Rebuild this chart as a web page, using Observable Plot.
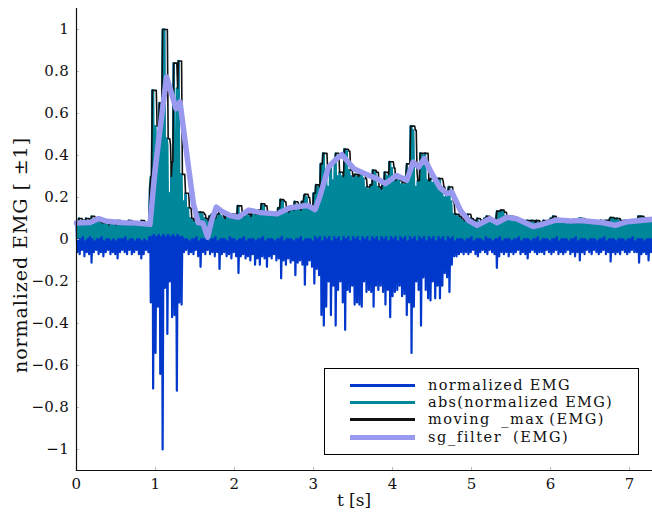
<!DOCTYPE html>
<html><head><meta charset="utf-8">
<script src="https://cdn.jsdelivr.net/npm/d3@7"></script>
<script src="https://cdn.jsdelivr.net/npm/@observablehq/plot@0.6"></script>
<style>
body{margin:0;background:#fff;}
#wrap{position:relative;width:652px;height:512px;font-family:"DejaVu Serif",serif;color:#111;}
#wrap svg{position:absolute;left:0;top:0;}
.lbl{position:absolute;white-space:nowrap;line-height:1;}
#legend{position:absolute;left:324px;top:368px;width:315px;height:87px;border:1px solid #000;background:#fff;box-sizing:border-box;}
.row{position:absolute;left:0;height:17px;width:100%;}
.sw{position:absolute;left:25px;width:65px;top:50%;}
.tx{position:absolute;left:103px;top:0;font-size:14.5px;line-height:17px;white-space:nowrap;}
</style></head><body><div id="wrap"></div>
<script>
// sampling step of the EMG record (s)
const dt = 0.01;
// normalized EMG samples, 12 per row (0.12 s per row)
const emg = [
 0.08,-0.06,0.01, 0.10,-0.07,-0.01, 0.07,-0.05,0.02, 0.09,-0.08,0.00,
 0.10,-0.06,0.01, 0.08,-0.07,-0.02, 0.09,-0.11,0.01, 0.07,-0.06,0.00,
 0.10,-0.05,0.01, 0.09,-0.07,-0.01, 0.08,-0.06,0.02, 0.07,-0.08,0.00,
 0.08,-0.06,0.01, 0.07,-0.05,-0.01, 0.09,-0.07,0.00, 0.08,-0.06,0.01,
 0.07,-0.07,0.00, 0.08,-0.09,0.01, 0.08,-0.06,-0.01, 0.07,-0.05,0.01,
 0.08,-0.06,0.02, 0.07,-0.07,0.00, 0.09,-0.05,-0.01, 0.08,-0.07,0.01,
 0.07,-0.06,0.00, 0.08,-0.05,0.01, 0.07,-0.07,-0.01, 0.08,-0.09,0.00,
 0.08,-0.07,0.01, 0.07,-0.05,0.00, 0.08,-0.06,0.02, 0.25,-0.30,0.02,
 0.71,-0.71,0.03, 0.54,-0.54,-0.02, 0.30,-0.32,0.03, 0.65,-0.64,-0.02,
 0.40,-1.00,0.03, 1.00,-0.23,-0.02, 0.48,-0.45,0.03, 0.22,-0.20,-0.02,
 0.30,-0.37,0.03, 0.84,-0.36,-0.02, 0.20,-0.72,0.03, 0.85,-0.30,-0.02,
 0.31,-0.31,0.02, 0.18,-0.06,-0.01, 0.22,-0.05,0.01, 0.15,-0.07,0.00,
 0.10,-0.06,0.01, 0.09,-0.07,-0.01, 0.11,-0.05,0.02, 0.13,-0.08,0.00,
 0.13,-0.13,0.01, 0.12,-0.06,-0.01, 0.10,-0.07,0.01, 0.09,-0.05,0.00,
 0.11,-0.07,0.01, 0.12,-0.06,-0.01, 0.10,-0.08,0.02, 0.12,-0.06,0.00,
 0.12,-0.14,0.01, 0.11,-0.07,-0.01, 0.10,-0.06,0.01, 0.12,-0.08,0.00,
 0.11,-0.07,0.02, 0.10,-0.09,-0.01, 0.12,-0.06,0.01, 0.11,-0.08,0.00,
 0.16,-0.16,0.01, 0.12,-0.08,-0.01, 0.11,-0.07,0.02, 0.13,-0.09,0.00,
 0.12,-0.08,0.01, 0.11,-0.10,-0.01, 0.13,-0.07,0.01, 0.12,-0.12,0.00,
 0.12,-0.09,0.01, 0.14,-0.12,-0.01, 0.17,-0.08,0.02, 0.16,-0.09,0.00,
 0.12,-0.13,0.01, 0.13,-0.08,-0.01, 0.12,-0.09,0.01, 0.13,-0.07,0.00,
 0.12,-0.10,0.01, 0.15,-0.09,-0.01, 0.19,-0.185,0.02, 0.18,-0.10,0.00,
 0.14,-0.12,0.01, 0.13,-0.09,-0.01, 0.15,-0.11,0.01, 0.14,-0.10,0.00,
 0.18,-0.17,0.01, 0.15,-0.11,-0.01, 0.14,-0.10,0.02, 0.18,-0.12,0.00,
 0.21,-0.215,0.01, 0.20,-0.12,-0.01, 0.16,-0.10,0.01, 0.15,-0.13,0.00,
 0.22,-0.21,0.02, 0.26,-0.14,-0.01, 0.25,-0.17,0.02, 0.36,-0.36,0.00,
 0.41,-0.41,0.02, 0.30,-0.32,-0.01, 0.25,-0.20,0.02, 0.33,-0.36,0.00,
 0.28,-0.22,0.02, 0.36,-0.41,-0.01, 0.30,-0.24,0.02, 0.32,-0.20,0.00,
 0.30,-0.30,0.02, 0.43,-0.43,-0.01, 0.42,-0.24,0.02, 0.33,-0.25,0.00,
 0.30,-0.22,0.02, 0.27,-0.31,-0.01, 0.25,-0.30,0.02, 0.29,-0.31,0.00,
 0.26,-0.32,0.02, 0.29,-0.20,-0.01, 0.24,-0.25,0.02, 0.22,-0.24,0.00,
 0.26,-0.25,0.02, 0.33,-0.32,-0.01, 0.32,-0.22,0.02, 0.25,-0.24,0.00,
 0.24,-0.22,0.02, 0.26,-0.25,-0.01, 0.32,-0.31,0.02, 0.30,-0.24,0.00,
 0.37,-0.37,0.02, 0.34,-0.27,-0.01, 0.28,-0.25,0.02, 0.30,-0.24,0.00,
 0.28,-0.22,0.02, 0.26,-0.27,-0.01, 0.25,-0.26,0.02, 0.30,-0.36,0.00,
 0.32,-0.30,0.02, 0.54,-0.54,-0.01, 0.52,-0.32,0.02, 0.25,-0.20,0.00,
 0.28,-0.24,0.02, 0.41,-0.41,-0.01, 0.40,-0.18,0.02, 0.41,-0.24,0.00,
 0.28,-0.28,0.02, 0.22,-0.29,-0.01, 0.27,-0.20,0.02, 0.29,-0.28,0.00,
 0.29,-0.22,0.02, 0.29,-0.28,-0.01, 0.25,-0.22,0.02, 0.20,-0.16,0.00,
 0.22,-0.18,0.02, 0.25,-0.25,-0.01, 0.18,-0.12,0.02, 0.12,-0.08,0.00,
 0.12,-0.08,0.01, 0.11,-0.07,-0.01, 0.10,-0.06,0.01, 0.09,-0.07,0.00,
 0.11,-0.06,0.01, 0.12,-0.07,-0.01, 0.10,-0.06,0.02, 0.09,-0.05,0.00,
 0.09,-0.07,0.01, 0.10,-0.08,-0.01, 0.08,-0.06,0.01, 0.09,-0.05,0.00,
 0.10,-0.06,0.02, 0.11,-0.07,-0.01, 0.10,-0.05,0.01, 0.09,-0.06,0.00,
 0.09,-0.07,0.01, 0.10,-0.135,-0.01, 0.13,-0.08,0.02, 0.14,-0.06,0.00,
 0.13,-0.07,0.01, 0.11,-0.06,-0.01, 0.10,-0.08,0.01, 0.11,-0.06,0.00,
 0.10,-0.07,0.01, 0.09,-0.06,-0.01, 0.09,-0.05,0.02, 0.08,-0.07,0.00,
 0.09,-0.06,0.01, 0.08,-0.07,-0.01, 0.09,-0.09,0.01, 0.08,-0.06,0.00,
 0.09,-0.05,0.01, 0.08,-0.06,-0.01, 0.09,-0.07,0.02, 0.08,-0.06,0.00,
 0.08,-0.06,0.01, 0.09,-0.07,-0.01, 0.08,-0.05,0.01, 0.09,-0.06,0.00,
 0.10,-0.07,0.01, 0.11,-0.06,-0.01, 0.10,-0.05,0.02, 0.09,-0.07,0.00,
 0.09,-0.06,0.01, 0.08,-0.07,-0.01, 0.09,-0.06,0.01, 0.08,-0.05,0.00,
 0.09,-0.07,0.01, 0.08,-0.06,-0.01, 0.09,-0.08,0.02, 0.08,-0.06,0.00,
 0.10,-0.10,0.01, 0.10,-0.06,-0.01, 0.09,-0.07,0.01, 0.08,-0.05,0.00,
 0.09,-0.06,0.01, 0.08,-0.07,-0.01, 0.09,-0.05,0.01, 0.08,-0.06,0.00,
 0.08,-0.07,0.01, 0.09,-0.06,-0.01, 0.08,-0.05,0.02, 0.09,-0.07,0.00,
 0.09,-0.06,0.01, 0.10,-0.105,-0.01, 0.10,-0.06,0.01, 0.10,-0.07,0.00,
 0.10,-0.06,0.01, 0.09,-0.07,-0.01, 0.08,-0.05,0.01, 0.09,-0.06,0.00,
 0.08,-0.07,0.01, 0.09,-0.06,-0.01, 0.08,-0.05,0.02, 0.09,-0.06,0.00,
 0.09,-0.06,0.01, 0.11,-0.11,-0.01, 0.11,-0.07,0.01, 0.10,-0.06,0.00,
 0.10,-0.07,0.01, 0.09,-0.10,-0.01, 0.09,-0.06,0.01, 0.08,-0.07,0.00
];
// Savitzky-Golay filtered envelope
const sgT = [0,0.17,0.28,0.38,0.6,0.76,0.93,0.99,1.05,1.14,1.21,1.26,1.31,1.4,1.48,1.54,1.6,1.66,1.71,1.77,1.84,1.95,2.05,2.18,2.33,2.54,2.7,2.92,2.98,3.02,3.08,3.19,3.28,3.36,3.51,3.65,3.8,3.91,4.05,4.18,4.26,4.33,4.4,4.5,4.6,4.69,4.75,4.86,4.96,5.07,5.23,5.32,5.45,5.57,5.78,5.91,6.08,6.25,6.38,6.67,6.82,6.97,7.29];
const sgV = [0.078,0.081,0.100,0.087,0.080,0.078,0.072,0.313,0.504,0.774,0.687,0.623,0.655,0.393,0.170,0.080,0.078,0.011,0.090,0.154,0.134,0.113,0.106,0.140,0.128,0.122,0.151,0.162,0.151,0.142,0.205,0.345,0.380,0.404,0.337,0.313,0.290,0.266,0.305,0.282,0.369,0.345,0.385,0.313,0.247,0.218,0.226,0.138,0.091,0.067,0.099,0.080,0.106,0.099,0.062,0.074,0.093,0.088,0.090,0.080,0.067,0.085,0.096];
const xTicks = [0,1,2,3,4,5,6,7];
const yTicks = [-1,-0.8,-0.6,-0.4,-0.2,0,0.2,0.4,0.6,0.8,1];
const seriesNames = ["normalized EMG","abs(normalized EMG)","moving \u2009_max\u2009(EMG)","sg_filter\u2009 (EMG)"];
const seriesColors = ["#0038cc","#00879a","#111111","#9999f0"];
const seriesWidths = [2.2,2.3,1.6,5.5];

const emgData = emg.map((v,i)=>({t:+(i*dt).toFixed(2), v, a:Math.abs(v)}));
const sgData = sgT.map((t,i)=>({t, v:sgV[i]}));

const plot = Plot.plot({
  width:652, height:512, marginLeft:76, marginRight:0, marginTop:8, marginBottom:42,
  style:{fontFamily:"DejaVu Serif, serif", fontSize:"15px", letterSpacing:"0.3px", background:"transparent", color:"#111"},
  x:{domain:[0,7.29]},
  y:{domain:[-1.1,1.1]},
  marks:[
    Plot.lineY(emgData,{x:"t",y:"v",stroke:seriesColors[0],strokeWidth:seriesWidths[0]}),
    Plot.lineY(emgData,{x:"t",y:"a",stroke:seriesColors[1],strokeWidth:seriesWidths[1]}),
    Plot.lineY(emgData,Plot.windowY({k:5,anchor:"end",reduce:"max"},{x:"t",y:"a",stroke:seriesColors[2],strokeWidth:seriesWidths[2]})),
    Plot.line(sgData,{x:"t",y:"v",stroke:seriesColors[3],strokeWidth:seriesWidths[3],strokeLinejoin:"round"}),
    Plot.axisX(xTicks,{tickSize:-3,tickPadding:10.5,stroke:"#bbb",label:null,tickFormat:d3.format("~g")}),
    Plot.axisY(yTicks,{tickSize:-3,tickPadding:10.5,stroke:"#bbb",label:null,tickFormat:d3.format("~g")}),
    Plot.frame({anchor:"left",strokeWidth:1.2}),
    Plot.frame({anchor:"bottom",strokeWidth:1.2})
  ]
});
const wrap = document.getElementById("wrap");
wrap.appendChild(plot);

// fit a text element's letter spacing to the extent it has in the reference
function fit(el, target){
  el.style.letterSpacing="0px";
  const w = el.getBoundingClientRect();
  const n = el.textContent.length;
  const natural = Math.max(w.width, w.height);
  el.style.letterSpacing = Math.max(0,(target - natural)/n) + "px";
}

const yl = document.createElement("div");
yl.className="lbl"; yl.textContent="normalized EMG [ \u00b11]";
yl.style.fontSize="19px";
wrap.appendChild(yl);
fit(yl, 236);
yl.style.left="20px"; yl.style.top="255px"; yl.style.transform="translate(-50%,-50%) rotate(-90deg)";

const xl = document.createElement("div");
xl.className="lbl"; xl.textContent="t [s]"; xl.style.fontSize="17px";
wrap.appendChild(xl);
fit(xl, 34);
xl.style.left="354px"; xl.style.top="500px"; xl.style.transform="translate(-50%,-50%)";

const legendWidths = [143,185,177,141];
const lg = document.createElement("div"); lg.id="legend";
wrap.appendChild(lg);
seriesNames.forEach((n,i)=>{
  const r=document.createElement("div"); r.className="row"; r.style.top=(8+i*17.2)+"px";
  const s=document.createElement("div"); s.className="sw";
  s.style.height=(i===3?5:3)+"px"; s.style.marginTop=(i===3?-2.5:-1.5)+"px"; s.style.background=seriesColors[i];
  const t=document.createElement("div"); t.className="tx"; t.textContent=n;
  r.appendChild(s); r.appendChild(t); lg.appendChild(r);
  fit(t, legendWidths[i]);
});
</script></body></html>
